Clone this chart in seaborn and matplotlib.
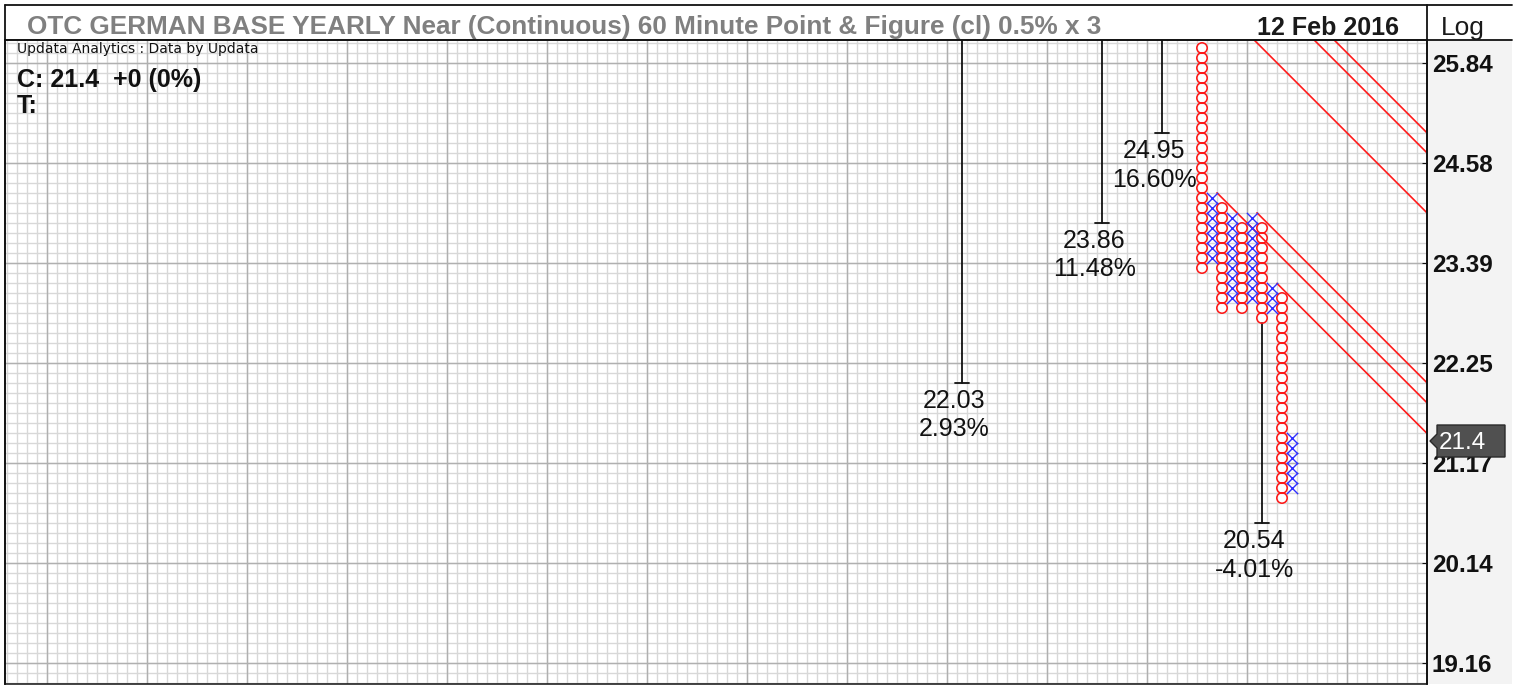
import numpy as np
import pandas as pd
import seaborn as sns
import matplotlib.pyplot as plt
from matplotlib.lines import Line2D
from matplotlib.patches import Rectangle, Polygon

# Point & Figure columns, 0.5% box x 3 reversal (column number, type, high, low)
pf_col = [120, 121, 122, 123, 124, 125, 126, 127, 128, 129]
pf_kind = ['O', 'X', 'O', 'X', 'O', 'X', 'O', 'X', 'O', 'X']
pf_high = [26.03, 24.16, 24.04, 23.92, 23.80, 23.92, 23.80, 23.10, 22.98, 21.43]
pf_low = [23.33, 23.45, 22.87, 22.98, 22.87, 22.98, 22.75, 22.87, 20.80, 20.90]

# vertical count targets (first three come from columns above the visible range)
target_col = [96, 110, 116, 126]
target_from = [27.50, 27.50, 27.50, 22.70]
target_price = [22.03, 23.86, 24.95, 20.54]
target_pct = ['2.93%', '11.48%', '16.60%', '-4.01%']

# 45 degree down trend lines: start column edge and start price
trend_col = [121.5, 125.5, 127.5, 120.5, 126.5, 128.5]
trend_price = [24.22, 23.98, 23.15, 26.76, 26.76, 26.76]

ytick_vals = [19.16, 20.14, 21.17, 22.25, 23.39, 24.58, 25.84]
close = 21.4

title = 'OTC GERMAN BASE YEARLY Near (Continuous) 60 Minute Point & Figure (cl) 0.5% x 3'
date_txt = '12 Feb 2016'

BOX = 1.005
GRID0 = 19.157

# expand columns into boxes
rows = []
for c, k, hi, lo in zip(pf_col, pf_kind, pf_high, pf_low):
    n_hi = int(round(np.log(hi / GRID0) / np.log(BOX) - 0.5))
    n_lo = int(round(np.log(lo / GRID0) / np.log(BOX) - 0.5))
    for n in range(n_lo, n_hi + 1):
        rows.append((c, k, GRID0 * BOX ** (n + 0.5)))
df = pd.DataFrame(rows, columns=['col', 'kind', 'price'])

sns.set_style('white')
plt.rcParams['font.family'] = ['Liberation Sans', 'DejaVu Sans']

W, H = 1520, 686
fig = plt.figure(figsize=(W / 100, H / 100), dpi=100)
L, R, T, B = 5, 1427, 40, 684
ax = fig.add_axes([L / W, 1 - B / H, (R - L) / W, (B - T) / H])
ax.set_yscale('log')
X0, X1 = 0.3, 142.5
ax.set_xlim(X0, X1)
ax.set_ylim(GRID0 * BOX ** -2.1, GRID0 * BOX ** 62.3)

# box grid
minor_y = [GRID0 * BOX ** k for k in range(-3, 64)]
major_y = [GRID0 * BOX ** k for k in range(0, 64, 10)]
minor_x = np.arange(0.5, 143, 1.0)
major_x = np.arange(4.5, 143, 10.0)
ax.hlines(minor_y, X0, X1, color='#d8d8d8', lw=1.0, zorder=0)
ax.vlines(minor_x, 0, 1, transform=ax.get_xaxis_transform(), color='#d8d8d8', lw=1.0, zorder=0)
ax.hlines(major_y, X0, X1, color='#b0b0b0', lw=1.0, zorder=0.5)
ax.vlines(major_x, 0, 1, transform=ax.get_xaxis_transform(), color='#b0b0b0', lw=1.0, zorder=0.5)

# trend lines
for x0, p0 in zip(trend_col, trend_price):
    xs = np.array([x0, X1])
    ax.plot(xs, p0 * BOX ** -(xs - x0), color='#ff1a1a', lw=1.2, zorder=2)

# target count lines
for c, top, p, pct in zip(target_col, target_from, target_price, target_pct):
    ax.plot([c, c], [top, p], color='#111111', lw=1.3, zorder=2)
    ax.plot([c - 0.7, c + 0.7], [p, p], color='#111111', lw=1.3, zorder=2)
    ax.annotate(f'{p:.2f}', xy=(c - 0.75, p), xytext=(0, -18), textcoords='offset points',
                ha='center', va='baseline', fontsize=18, color='#111111')
    ax.annotate(pct, xy=(c - 0.75, p), xytext=(0, -38.5), textcoords='offset points',
                ha='center', va='baseline', fontsize=18, color='#111111')

# O and X boxes
sns.scatterplot(data=df[df.kind == 'O'], x='col', y='price', marker='o', s=56,
                facecolor='none', edgecolor='#ff1414', linewidth=1.1, ax=ax, zorder=3)
sns.scatterplot(data=df[df.kind == 'X'], x='col', y='price', marker='x', s=66,
                color='#3030ff', linewidth=1.0, ax=ax, zorder=3)

ax.set_xlabel('')
ax.set_ylabel('')
ax.set_xticks([])
ax.set_yticks(ytick_vals)
ax.set_yticklabels([f'{v:.2f}' for v in ytick_vals], fontweight='bold')
ax.yaxis.set_minor_locator(plt.NullLocator())
ax.yaxis.tick_right()
ax.tick_params(axis='y', direction='in', length=3.6, width=0.8, pad=3.5,
               labelsize=17.5, labelcolor='#111111', colors='#111111')
for s in ax.spines.values():
    s.set_color('#111111')
    s.set_linewidth(1.1)

def fx(px):
    return px / W

def fy(py):
    return 1 - py / H

# right price panel and title bar frame
fig.add_artist(Rectangle((fx(1427), fy(684)), (1512 - 1427) / W, (684 - 40) / H,
                         transform=fig.transFigure, facecolor='#f3f3f3', edgecolor='none', zorder=-1))
frame = [((5, 1512), (5, 5)), ((5, 1512), (40, 40)), ((5, 5), (5, 684)),
         ((1427, 1427), (5, 684))]
for xs, ys in frame:
    fig.add_artist(Line2D([fx(v) for v in xs], [fy(v) for v in ys], color='#111111', lw=1.3))

fig.text(fx(27), fy(34), title, fontsize=18.8, fontweight='bold', color='#808080', va='baseline')
fig.text(fx(1399), fy(35), date_txt, fontsize=18, fontweight='bold', color='#1a1a1a',
         va='baseline', ha='right')
fig.text(fx(1463), fy(35), 'Log', fontsize=19, color='#1a1a1a', va='baseline', ha='center')
fig.text(fx(17), fy(53), 'Updata Analytics : Data by Updata', fontsize=10,
         family='DejaVu Sans', color='#111111', va='baseline')
fig.text(fx(17), fy(87), 'C: 21.4  +0 (0%)', fontsize=18, fontweight='bold', color='#111111',
         va='baseline')
fig.text(fx(17), fy(113), 'T:', fontsize=18, fontweight='bold', color='#111111', va='baseline')

# last value marker on the price panel
y_px = H - ax.transData.transform((100, close))[1]
pts = [(1430, y_px), (1437, y_px - 7), (1437, y_px - 16), (1505, y_px - 16),
       (1505, y_px + 16), (1437, y_px + 16), (1437, y_px + 7)]
fig.add_artist(Polygon([(fx(a), fy(b)) for a, b in pts], closed=True, transform=fig.transFigure,
                       facecolor='#505050', edgecolor='#2a2a2a', lw=1.0, zorder=5))
fig.text(fx(1439), fy(y_px + 8), f'{close}', fontsize=17.5, color='white', va='baseline', zorder=6)

fig.savefig('out.png', dpi=100)
